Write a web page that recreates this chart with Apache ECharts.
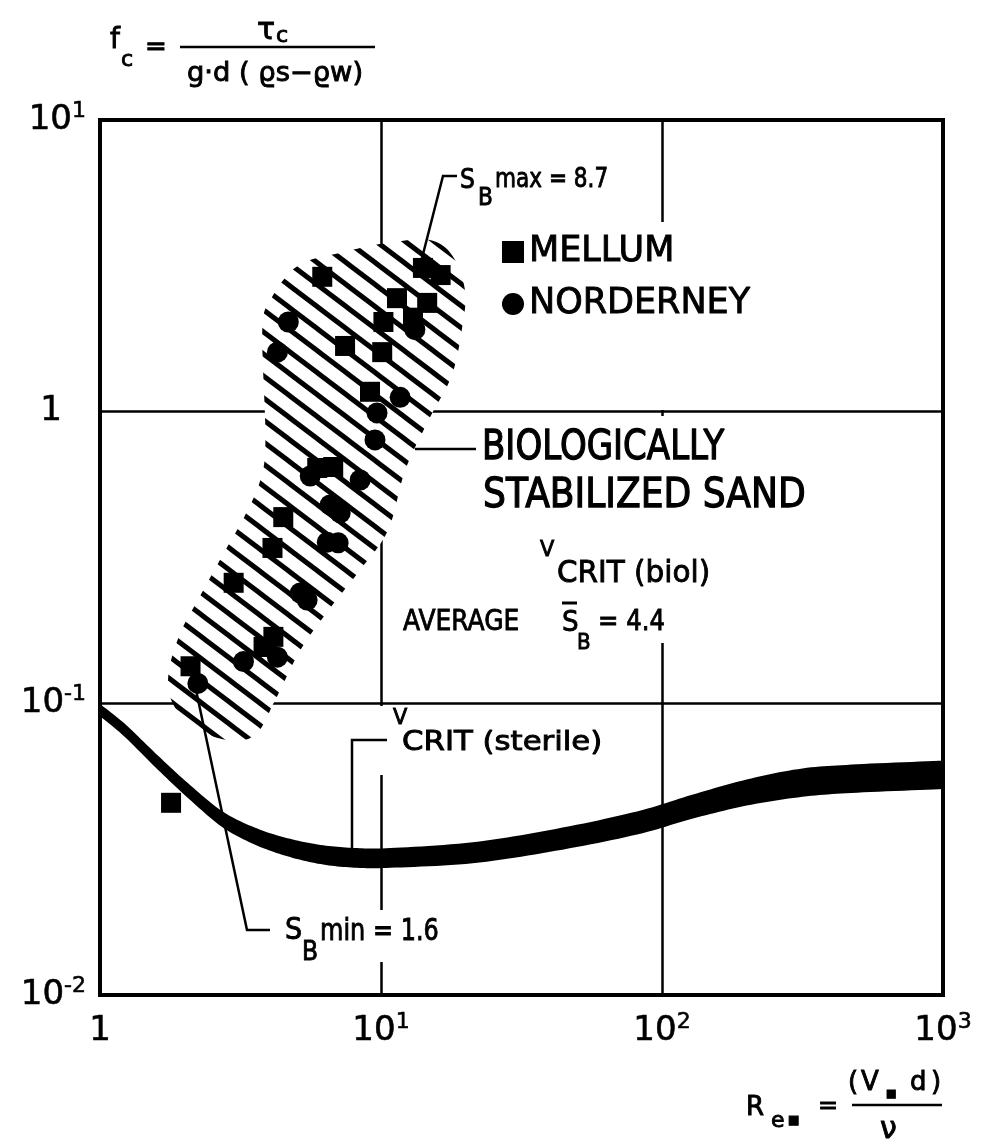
<!DOCTYPE html>
<html><head><meta charset="utf-8">
<script src="https://cdn.jsdelivr.net/npm/echarts@6/dist/echarts.min.js"></script>
<style>html,body{margin:0;padding:0;background:#fff}#c{width:983px;height:1146px}</style>
</head><body><div id="c"></div>
<script>
// ---------- data ----------
const mellumX = [6.18, 7.45, 14.1, 16.3, 11.4, 14.6, 10.2, 13.0, 10.1, 9.14, 5.93, 6.76, 4.49, 4.11, 2.99, 3.82, 4.14, 2.10, 1.79];
const mellumY = [2.90, 1.68, 3.11, 2.94, 2.45, 2.36, 2.03, 2.10, 1.60, 1.17, 0.641, 0.646, 0.435, 0.341, 0.259, 0.156, 0.169, 0.134, 0.0456];
const norderneyX = [4.68, 4.28, 11.7, 9.68, 9.52, 8.43, 7.16, 6.59, 6.44, 7.04, 5.16, 5.46, 3.24, 4.28, 2.23, 5.60, 13.2];
const norderneyY = [2.03, 1.60, 1.12, 0.99, 0.80, 0.583, 0.450, 0.479, 0.357, 0.355, 0.239, 0.226, 0.139, 0.144, 0.117, 0.602, 1.91];
// v_crit (sterile) band: x, upper edge, lower edge
const bandX =     [1.0,   1.22,  1.61,  2.10,  2.75,  3.63,  4.75,  6.23,  8.22,  10.8,  21.2,  41.8,  81.5,  128,   200,   316,   495,   1000];
const bandUpper = [0.0994,0.0854,0.0661,0.0523,0.0424,0.0372,0.0343,0.0326,0.0319,0.0319,0.0334,0.0371,0.0426,0.0486,0.0548,0.0598,0.0618,0.0636];
const bandLower = [0.0904,0.0770,0.0591,0.0465,0.0374,0.0325,0.0297,0.0280,0.0273,0.0273,0.0283,0.0312,0.0355,0.0402,0.0446,0.0478,0.0494,0.0508];
// biologically stabilized sand (hatched region outline, closed)
const hatchX = [3.78, 4.04, 4.75, 5.60, 6.87, 8.77, 11.2, 14.9, 17.9, 19.9, 19.5, 17.9, 14.9, 12.2, 10.6, 8.43, 6.59, 5.16, 4.21, 3.57, 2.80, 2.10, 1.79, 1.76, 1.94, 2.28, 2.80, 3.29, 3.72, 3.88, 3.78];
const hatchY = [1.91, 2.41, 3.01, 3.31, 3.47, 3.67, 3.82, 3.88, 3.44, 2.61, 1.98, 1.34, 0.951, 0.631, 0.393, 0.287, 0.212, 0.152, 0.103, 0.0780, 0.0750, 0.0843, 0.103, 0.130, 0.176, 0.235, 0.336, 0.443, 0.583, 0.800, 1.19];
const xTickValues = [1, 10, 100, 1000];
const xTickExp = ['', '1', '2', '3'];
const yTickValues = [0.01, 0.1, 1, 10];
const yTickExp = ['-2', '-1', '', '1'];
const seriesNames = ['MELLUM', 'NORDERNEY'];

// ---------- helpers ----------
const FONT = "'DejaVu Sans', sans-serif";
function hatchPattern() {
  const W = 29, H = 22;
  const c = document.createElement('canvas'); c.width = W; c.height = H;
  const g = c.getContext('2d');
  g.fillStyle = '#fff'; g.fillRect(0, 0, W, H);
  g.strokeStyle = '#000'; g.lineWidth = 5;
  [-W, 0, W].forEach(o => { g.beginPath(); g.moveTo(o - W, -H); g.lineTo(o + 2 * W, 2 * H); g.stroke(); });
  return c;
}
const PAT = hatchPattern();
// Catmull-Rom smoothing of a pixel polyline (rendering only)
function smoothPts(p, closed) {
  const n = p.length, out = [];
  const get = i => closed ? p[(i + n) % n] : p[Math.max(0, Math.min(n - 1, i))];
  const segs = closed ? n : n - 1;
  for (let i = 0; i < segs; i++) {
    const p0 = get(i - 1), p1 = get(i), p2 = get(i + 1), p3 = get(i + 2);
    for (let k = 0; k < 12; k++) {
      const t = k / 12, t2 = t * t, t3 = t2 * t;
      const f = (a, b, c, d) => 0.5 * ((2 * b) + (-a + c) * t + (2 * a - 5 * b + 4 * c - d) * t2 + (-a + 3 * b - 3 * c + d) * t3);
      out.push([f(p0[0], p1[0], p2[0], p3[0]), f(p0[1], p1[1], p2[1], p3[1])]);
    }
  }
  if (!closed) out.push(p[n - 1]);
  return out;
}
function T(x, y, text, size, sx, extra) {
  return Object.assign({
    type: 'text', x: x, y: y, scaleX: sx == null ? 0.86 : sx, z: 20,
    style: Object.assign({ text: text, fontSize: size, fontFamily: FONT, fill: '#000', stroke: '#000', lineWidth: 0.9, align: 'left', verticalAlign: 'middle' }, extra || {})
  });
}
function L(points, w) {
  return { type: 'polyline', z: 20, shape: { points: points }, style: { stroke: '#000', lineWidth: w || 2.5, fill: null } };
}
function W(x, y, w, h) {
  return { type: 'rect', z: 1, shape: { x: x, y: y, width: w, height: h }, style: { fill: '#fff' } };
}
function expLabel(exp) {
  return exp === '' ? '{one|1}' : '{b|10}{s|' + exp + '}';
}
const tb = { textBorderColor: '#000', textBorderWidth: 0.6 };
const richAxis = {
  b: Object.assign({ fontSize: 34, lineHeight: 40, fontFamily: FONT, color: '#000' }, tb),
  s: Object.assign({ fontSize: 22, lineHeight: 22, fontFamily: FONT, color: '#000', verticalAlign: 'top' }, tb),
  one: Object.assign({ fontSize: 34, lineHeight: 40, fontFamily: FONT, color: '#000' }, tb)
};

const chart = echarts.init(document.getElementById('c'), null, { renderer: 'canvas' });
const option = {
  backgroundColor: '#fff',
  animation: false,
  grid: { left: 100, right: 40, top: 120, bottom: 151, show: true, borderColor: '#000', borderWidth: 4, backgroundColor: 'transparent' },
  legend: {
    data: seriesNames, orient: 'vertical', left: 498, top: 230, itemWidth: 22, itemHeight: 22, itemGap: 12,
    backgroundColor: '#fff', padding: [2, 4], z: 15,
    textStyle: Object.assign({ fontSize: 35, lineHeight: 40, fontFamily: FONT, color: '#000' }, { textBorderColor: '#000', textBorderWidth: 0.9 })
  },
  xAxis: {
    type: 'log', logBase: 10, min: 1, max: 1000,
    axisLine: { show: true, lineStyle: { color: '#000', width: 4 } },
    axisTick: { show: false },
    splitLine: { show: true, lineStyle: { color: '#000', width: 2.5 } },
    axisLabel: {
      margin: 16, showMinLabel: true, showMaxLabel: true,
      formatter: v => { const i = xTickValues.findIndex(t => Math.abs(Math.log10(t) - Math.log10(v)) < 1e-6); return i < 0 ? '' : expLabel(xTickExp[i]); },
      rich: richAxis
    }
  },
  yAxis: {
    type: 'log', logBase: 10, min: 0.01, max: 10,
    axisLine: { show: true, lineStyle: { color: '#000', width: 4 } },
    axisTick: { show: false },
    splitLine: { show: true, lineStyle: { color: '#000', width: 2.5 } },
    axisLabel: {
      margin: 14, showMinLabel: true, showMaxLabel: true,
      formatter: v => { const i = yTickValues.findIndex(t => Math.abs(Math.log10(t) - Math.log10(v)) < 1e-6); return i < 0 ? '' : expLabel(yTickExp[i]); },
      rich: Object.assign({}, richAxis, { one: Object.assign({ fontSize: 34, lineHeight: 40, fontFamily: FONT, color: '#000', padding: [0, 24, 0, 0] }, tb) })
    }
  },
  series: [
    {
      name: 'biologically stabilized sand', type: 'custom', coordinateSystem: 'cartesian2d', silent: true, z: 3, clip: true,
      data: [[hatchX[0], hatchY[0]]],
      renderItem: (params, api) => {
        const pts = hatchX.slice(0, -1).map((x, i) => api.coord([x, hatchY[i]]));
        return { type: 'polygon', shape: { points: smoothPts(pts, true) }, style: { fill: { image: PAT, repeat: 'repeat' }, stroke: null } };
      }
    },
    {
      name: 'v crit sterile', type: 'custom', coordinateSystem: 'cartesian2d', silent: true, z: 4, clip: true,
      data: [[bandX[0], bandUpper[0]]],
      renderItem: (params, api) => {
        const up = smoothPts(bandX.map((x, i) => api.coord([x, bandUpper[i]])), false);
        const lo = smoothPts(bandX.map((x, i) => api.coord([x, bandLower[i]])), false).reverse();
        return { type: 'polygon', shape: { points: up.concat(lo) }, style: { fill: '#000', stroke: null } };
      }
    },
    {
      name: 'MELLUM', type: 'scatter', symbol: 'rect', symbolSize: 20, z: 5,
      itemStyle: { color: '#000', opacity: 1 },
      data: mellumX.map((x, i) => [x, mellumY[i]])
    },
    {
      name: 'NORDERNEY', type: 'scatter', symbol: 'circle', symbolSize: 21, z: 5,
      itemStyle: { color: '#000', opacity: 1 },
      data: norderneyX.map((x, i) => [x, norderneyY[i]])
    }
  ],
  graphic: [
    // gaps in grid lines behind labels
    W(654, 222, 18, 188), W(654, 416, 18, 227), W(371, 706, 19, 69), W(371, 910, 19, 52),
    // y-axis quantity formula
    T(110, 41, 'f', 28, 1), T(121, 60, 'c', 22, 1), T(145, 48, '=', 26, 1),
    T(257, 31, 'τ', 30, 1), T(276, 36, 'c', 22, 1),
    L([[180, 47], [375, 47]], 2.5),
    T(187, 74, 'g·d ( ϱs−ϱw)', 26, 1.05),
    // x-axis quantity formula
    T(746, 1108, 'R', 26, 1), T(771, 1121, 'e', 22, 1), T(788, 1121, '■', 12, 1),
    T(818, 1107, '=', 24, 1),
    T(848, 1083, '(', 26, 1), T(861, 1083, 'V', 26, 1), T(886, 1094, '■', 11, 1), T(910, 1083, 'd', 26, 1), T(931, 1083, ')', 26, 1),
    L([[852, 1105], [942, 1105]], 2.5),
    T(880, 1130, 'ν', 30, 1),
    // S_B max
    L([[421, 262], [443, 176], [457, 176]], 2.5),
    T(460, 181, 'S', 26, 0.9), T(478, 199, 'B', 24, 0.9), T(495, 180, 'max = 8.7', 26, 0.83),
    // biologically stabilized sand
    L([[415, 449], [476, 449]], 2.5),
    T(482, 448, 'BIOLOGICALLY', 41, 0.83, { lineWidth: 1.3 }),
    T(483, 496, 'STABILIZED SAND', 41, 0.88, { lineWidth: 1.3 }),
    T(540, 550, 'V', 22, 0.95),
    T(557, 574, 'CRIT (biol)', 31, 0.95),
    T(403, 622, 'AVERAGE', 29, 0.86),
    L([[562, 603], [577, 603]], 3),
    T(562, 623, 'S', 29, 0.9), T(577, 643, 'B', 22, 0.9), T(598, 622, '= 4.4', 29, 0.84),
    // v crit sterile
    L([[352, 848], [352, 740], [387, 740]], 2.5),
    T(393, 718, 'V', 22, 0.95),
    T(402, 743, 'CRIT (sterile)', 27, 1.14),
    // S_B min
    L([[196, 690], [247, 930], [270, 930]], 2.5),
    T(285, 931, 'S', 30, 0.9), T(302, 953, 'B', 26, 0.9), T(320, 932, 'min = 1.6', 30, 0.8)
  ]
};
chart.setOption(option);
</script>
</body></html>
